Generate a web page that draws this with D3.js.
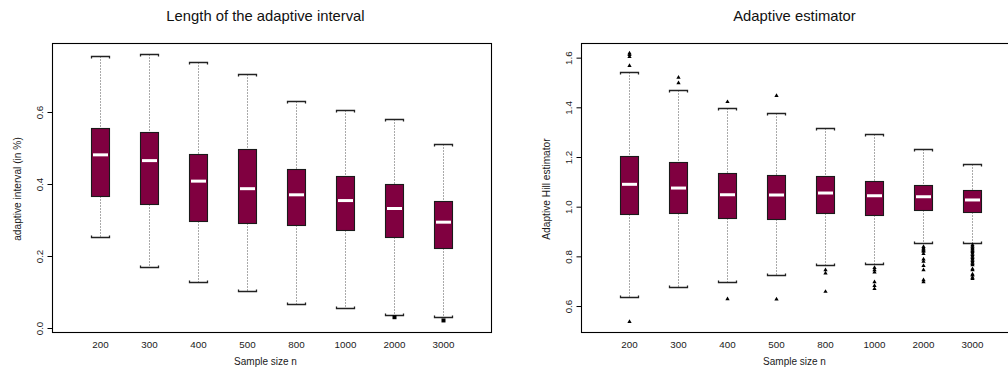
<!DOCTYPE html>
<html><head><meta charset="utf-8">
<script src="https://cdn.jsdelivr.net/npm/d3@7"></script>
<style>
html,body{margin:0;padding:0;background:#fff;}
svg{display:block;font-family:"Liberation Sans",Arial,Helvetica,sans-serif;}
</style></head>
<body>
<svg id="chart" width="1008" height="381"></svg>
<script>
// ---------- data ----------
const categories = ["200","300","400","500","800","1000","2000","3000"];

// Left panel: Length of the adaptive interval
const intervalLowerWhisker = [0.253, 0.170, 0.129, 0.103, 0.067, 0.056, 0.037, 0.031];
const intervalQ1           = [0.367, 0.344, 0.298, 0.291, 0.286, 0.271, 0.253, 0.221];
const intervalMedian       = [0.481, 0.465, 0.408, 0.387, 0.370, 0.354, 0.332, 0.294];
const intervalQ3           = [0.556, 0.545, 0.484, 0.498, 0.442, 0.423, 0.400, 0.353];
const intervalUpperWhisker = [0.756, 0.761, 0.738, 0.706, 0.631, 0.606, 0.580, 0.511];
const intervalOutliers     = [[], [], [], [], [], [], [0.030], [0.021]];
const intervalTicks        = [0.0, 0.2, 0.4, 0.6];

// Right panel: Adaptive estimator
const estimatorLowerWhisker = [0.638, 0.677, 0.695, 0.724, 0.766, 0.770, 0.855, 0.853];
const estimatorQ1           = [0.969, 0.975, 0.956, 0.949, 0.976, 0.967, 0.985, 0.979];
const estimatorMedian       = [1.090, 1.075, 1.048, 1.047, 1.055, 1.044, 1.040, 1.027];
const estimatorQ3           = [1.204, 1.180, 1.134, 1.128, 1.124, 1.105, 1.086, 1.066];
const estimatorUpperWhisker = [1.541, 1.470, 1.396, 1.379, 1.318, 1.294, 1.232, 1.171];
const estimatorOutliers = [
  [1.618, 1.612, 1.604, 1.567, 0.537],
  [1.520, 1.498],
  [1.422, 0.628],
  [1.447, 0.627],
  [0.745, 0.732, 0.658],
  [0.754, 0.745, 0.736, 0.697, 0.682, 0.669],
  [0.839, 0.833, 0.828, 0.823, 0.819, 0.810, 0.788, 0.779, 0.762, 0.745, 0.705, 0.697],
  [0.846, 0.840, 0.834, 0.829, 0.823, 0.818, 0.812, 0.806, 0.800, 0.794, 0.788, 0.782,
   0.776, 0.770, 0.765, 0.749, 0.745, 0.728, 0.724, 0.715, 0.710]
];
const estimatorTicks = [0.6, 0.8, 1.0, 1.2, 1.4, 1.6];

// ---------- drawing ----------
const svg = d3.select("#chart");
const BOX_FILL = "#800040";

function panel(opt) {
  const g = svg.append("g");
  const x = d3.scalePoint().domain(categories).range([opt.left, opt.right]).padding(0.98);
  const y = d3.scaleLinear().domain(opt.domain).range([opt.bottom, opt.top]);
  const bw = 18;

  // title
  g.append("text").attr("x", (opt.left + opt.right) / 2 - 6).attr("y", 21)
    .attr("text-anchor", "middle").attr("font-size", "14.8px").attr("fill", "#111")
    .text(opt.title);

  // x tick labels (no tick marks)
  const xAxis = d3.axisBottom(x).tickSize(0).tickPadding(0);
  const xa = g.append("g").attr("transform", `translate(0,${opt.bottom})`).call(xAxis);
  xa.select(".domain").remove();
  xa.selectAll("text").attr("font-size", "9.8px").attr("fill", "#1a1a1a")
    .attr("font-family", "Liberation Sans, Arial, sans-serif")
    .attr("dy", null).attr("y", 16);

  // x axis title
  g.append("text").attr("x", (opt.left + opt.right) / 2 - 6).attr("y", 365)
    .attr("text-anchor", "middle").attr("font-size", "10px").attr("fill", "#1a1a1a")
    .text("Sample size n");

  // y axis
  const yAxis = d3.axisLeft(y).tickValues(opt.ticks).tickSize(5).tickSizeOuter(0)
    .tickFormat(d3.format(".1f")).tickPadding(0);
  const ya = g.append("g").attr("transform", `translate(${opt.left + 0.5},0)`).call(yAxis);
  ya.select(".domain").attr("stroke", "#000")
    .attr("d", `M0,${y(opt.ticks[0])}V${y(opt.ticks[opt.ticks.length - 1])}`);
  ya.selectAll(".tick line").attr("stroke", "#000");
  ya.selectAll(".tick text")
    .attr("font-size", "9.8px").attr("fill", "#1a1a1a")
    .attr("font-family", "Liberation Sans, Arial, sans-serif")
    .attr("x", null).attr("dy", null)
    .attr("text-anchor", "middle")
    .attr("transform", "translate(-10,0) rotate(-90)");

  // y axis title
  const ymid = (opt.top + opt.bottom) / 2 + 1.5;
  g.append("text")
    .attr("transform", `translate(${opt.labelX},${ymid}) rotate(-90)`)
    .attr("text-anchor", "middle").attr("font-size", "10.2px").attr("fill", "#1a1a1a")
    .text(opt.ylabel);

  // clip area
  const clipId = "clip" + opt.id;
  svg.append("clipPath").attr("id", clipId).append("rect")
    .attr("x", opt.left).attr("y", opt.top).attr("width", opt.right - opt.left).attr("height", opt.bottom - opt.top);
  const plot = g.append("g").attr("clip-path", `url(#${clipId})`);

  categories.forEach((c, i) => {
    const cx = Math.round(x(c));
    const x0 = cx - bw / 2, x1 = cx + bw / 2;
    const yu = Math.round(y(opt.uw[i])) + 0.5, yl = Math.round(y(opt.lw[i])) + 0.5;
    const yq3 = Math.round(y(opt.q3[i])) + 0.5, yq1 = Math.round(y(opt.q1[i])) + 0.5;
    // whiskers (dotted)
    plot.append("line").attr("x1", cx + 0.5).attr("x2", cx + 0.5).attr("y1", yu).attr("y2", yq3)
      .attr("stroke", "#555").attr("stroke-width", 1).attr("stroke-dasharray", "1,2");
    plot.append("line").attr("x1", cx + 0.5).attr("x2", cx + 0.5).attr("y1", yq1).attr("y2", yl)
      .attr("stroke", "#555").attr("stroke-width", 1).attr("stroke-dasharray", "1,2");
    // caps as brackets
    plot.append("path")
      .attr("d", `M${x0 + 0.5},${yu + 2}V${yu}H${x1 + 0.5}V${yu + 2}`)
      .attr("fill", "none").attr("stroke", "#222").attr("stroke-width", 1.3);
    plot.append("path")
      .attr("d", `M${x0 + 0.5},${yl - 2}V${yl}H${x1 + 0.5}V${yl - 2}`)
      .attr("fill", "none").attr("stroke", "#222").attr("stroke-width", 1.3);
    // box
    plot.append("rect").attr("x", x0 + 0.5).attr("y", yq3).attr("width", bw).attr("height", yq1 - yq3)
      .attr("fill", BOX_FILL).attr("stroke", "#1a1a1a").attr("stroke-width", 1.1);
    // median
    const ym = y(opt.med[i]);
    plot.append("line").attr("x1", x0 + 2).attr("x2", x1 - 1).attr("y1", ym).attr("y2", ym)
      .attr("stroke", "#fff").attr("stroke-width", 3);
    // outliers
    opt.out[i].forEach(v => {
      const yy = y(v);
      if (opt.square) {
        plot.append("rect").attr("x", cx - 1.5).attr("y", yy - 2).attr("width", 4).attr("height", 4)
          .attr("fill", "#000");
      } else {
        plot.append("path").attr("d", d3.symbol(d3.symbolTriangle, 8)())
          .attr("transform", `translate(${cx + 0.5},${yy})`).attr("fill", "#000");
      }
    });
  });

  // frame
  g.append("rect").attr("x", opt.left + 0.5).attr("y", opt.top + 0.5)
    .attr("width", opt.right - opt.left).attr("height", opt.bottom - opt.top)
    .attr("fill", "none").attr("stroke", "#000").attr("stroke-width", 1.1);
}

panel({
  id: "L", left: 52, right: 491, top: 43, bottom: 332,
  domain: [-0.0111, 0.7917], ticks: intervalTicks,
  title: "Length of the adaptive interval", ylabel: "adaptive interval (in %)", labelX: 21,
  lw: intervalLowerWhisker, q1: intervalQ1, med: intervalMedian, q3: intervalQ3, uw: intervalUpperWhisker,
  out: intervalOutliers, square: true
});
panel({
  id: "R", left: 581, right: 1020, top: 43, bottom: 332,
  domain: [0.4954, 1.659], ticks: estimatorTicks,
  title: "Adaptive estimator", ylabel: "Adaptive Hill estimator", labelX: 550,
  lw: estimatorLowerWhisker, q1: estimatorQ1, med: estimatorMedian, q3: estimatorQ3, uw: estimatorUpperWhisker,
  out: estimatorOutliers, square: false
});
</script>
</body></html>
